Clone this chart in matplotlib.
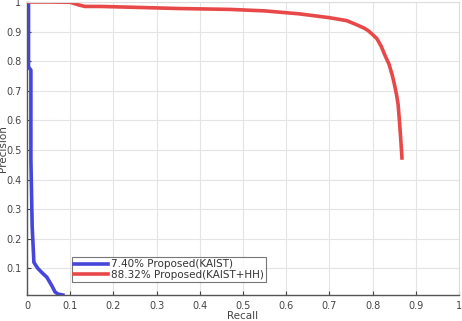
import matplotlib
matplotlib.use('Agg')
import matplotlib.pyplot as plt

# PR curves
kaist_recall = [0.0, 0.0035, 0.0035, 0.009, 0.009, 0.012, 0.016, 0.025, 0.035,
                0.046, 0.052, 0.058, 0.065, 0.072, 0.083]
kaist_precision = [1.0, 1.0, 0.78, 0.77, 0.47, 0.24, 0.12, 0.10, 0.085,
                   0.07, 0.055, 0.04, 0.02, 0.013, 0.01]

kaisthh_recall = [0.0, 0.05, 0.10, 0.12, 0.134, 0.17, 0.25, 0.35, 0.47, 0.55,
                  0.63, 0.70, 0.74, 0.76, 0.78, 0.79, 0.80, 0.81, 0.82, 0.83,
                  0.838, 0.845, 0.85, 0.855, 0.859, 0.862, 0.865, 0.868]
kaisthh_precision = [1.0, 1.0, 0.999, 0.99, 0.985, 0.985, 0.982, 0.978, 0.975,
                     0.97, 0.96, 0.947, 0.937, 0.925, 0.912, 0.903, 0.89, 0.876,
                     0.85, 0.815, 0.79, 0.755, 0.725, 0.69, 0.655, 0.60, 0.54, 0.473]

labels = ['7.40% Proposed(KAIST)', '88.32% Proposed(KAIST+HH)']

fig = plt.figure(figsize=(4.62, 3.21), dpi=100)
ax = fig.add_axes([27 / 462, 26 / 321, 432 / 462, 293 / 321])

ax.plot(kaist_recall, kaist_precision, color='#4646dc', lw=2.6, label=labels[0])
ax.plot(kaisthh_recall, kaisthh_precision, color='#e84848', lw=2.6, label=labels[1])

ax.set_xlim(0, 1)
ax.set_ylim(0.01, 1)
ax.set_xticks([0, 0.1, 0.2, 0.3, 0.4, 0.5, 0.6, 0.7, 0.8, 0.9, 1])
ax.set_xticklabels(['0', '0.1', '0.2', '0.3', '0.4', '0.5', '0.6', '0.7', '0.8', '0.9', '1'])
ax.set_yticks([0.1, 0.2, 0.3, 0.4, 0.5, 0.6, 0.7, 0.8, 0.9, 1])
ax.set_yticklabels(['0.1', '0.2', '0.3', '0.4', '0.5', '0.6', '0.7', '0.8', '0.9', '1'])
ax.grid(True, color='#e4e4e4', lw=0.8)
ax.tick_params(direction='in', length=3, labelsize=7, colors='#444444', pad=4)

for s in ['left', 'bottom']:
    ax.spines[s].set_color('#555555')
    ax.spines[s].set_linewidth(1.0)
for s in ['top', 'right']:
    ax.spines[s].set_color('#dddddd')
    ax.spines[s].set_linewidth(0.8)

ax.set_xlabel('Recall', fontsize=7.5, color='#444444', labelpad=0)
ax.set_ylabel('Precision', fontsize=7.5, color='#444444')
ax.yaxis.set_label_coords(-0.045, 0.5)

leg = ax.legend(loc='lower left', bbox_to_anchor=(0.105, 0.045), fontsize=7.5,
                frameon=True, fancybox=False, edgecolor='#555555',
                borderpad=0.2, labelspacing=0.05, handlelength=3.2,
                handletextpad=0.3, borderaxespad=0)
leg.get_frame().set_linewidth(0.8)
for t in leg.get_texts():
    t.set_color('#333333')

fig.savefig('out.png', dpi=100)
